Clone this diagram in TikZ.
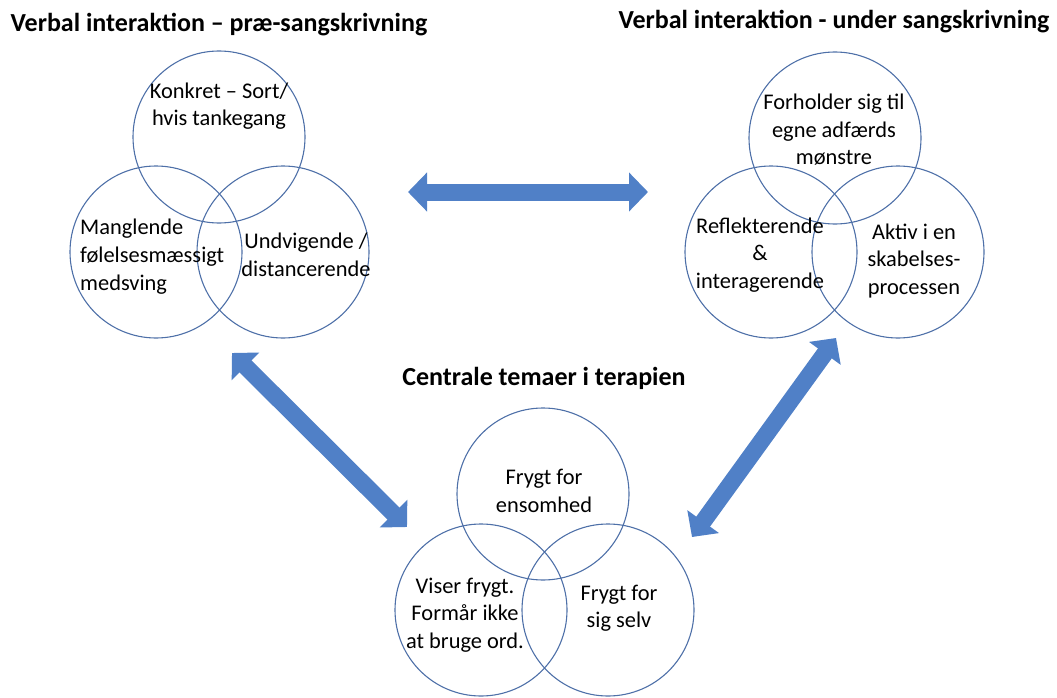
\documentclass[tikz,border=0pt]{standalone}
\usepackage{fontspec}
\setmainfont{Carlito}
\usetikzlibrary{arrows.meta}
\definecolor{ring}{RGB}{78,112,168}
\definecolor{arrowblue}{RGB}{80,128,199}
\tikzset{
  ring/.style={circle, draw=ring, line width=1.1pt, minimum size=172pt, inner sep=0pt},
  lbl/.style={align=center, inner sep=0pt, font=\fontsize{22.4}{27.5}\selectfont},
  lbll/.style={align=left, inner sep=0pt, font=\fontsize{22.4}{28}\selectfont},
  ttl/.style={inner sep=0pt, font=\fontsize{26}{30}\selectfont\bfseries},
  fat/.style={draw=arrowblue, fill=arrowblue, line width=17pt,
    {Triangle[length=19pt 0, width=38pt 0]}-{Triangle[length=19pt 0, width=38pt 0]}}
}
\begin{document}
\begin{tikzpicture}[x=1pt,y=-1pt]
\useasboundingbox (0,0) rectangle (1057,698);
% titles
\node[ttl] (t1) at (219,25) {Verbal interaktion -- præ-sangskrivning};
\node[ttl] (t2) at (834,22) {Verbal interaktion - under sangskrivning};
\node[ttl] (t3) at (544,378) {Centrale temaer i terapien};
% left group
\node[ring] (l1) at (219,137) {};
\node[ring] (l2) at (156,252) {};
\node[ring] (l3) at (283,252) {};
\node[lbl] (l1t) at (219,106) {Konkret -- Sort/\\hvis tankegang};
\node[lbll,anchor=west] (l2t) at (80,257) {Manglende\\følelsesmæssigt\\medsving};
\node[lbl] (l3t) at (306,255) {Undvigende /\\distancerende};
% right group
\node[ring] (r1) at (835,138) {};
\node[ring] (r2) at (771,252) {};
\node[ring] (r3) at (898,252) {};
\node[lbl] (r1t) at (834,130) {Forholder sig til\\egne adfærds\\mønstre};
\node[lbl] (r2t) at (760,255) {Reflekterende\\\&\\interagerende};
\node[lbl] (r3t) at (914,261) {Aktiv i en\\skabelses-\\processen};
% bottom group
\node[ring] (b1) at (543,494) {};
\node[ring] (b2) at (481,610) {};
\node[ring] (b3) at (608,610) {};
\node[lbl] (b1t) at (544,491) {Frygt for\\ensomhed};
\node[lbl] (b2t) at (465,615) {Viser frygt.\\Formår ikke\\at bruge ord.};
\node[lbl] (b3t) at (619,608) {Frygt for\\sig selv};
% arrow end points
\coordinate (h1) at (408,192);
\coordinate (h2) at (648,192);
\coordinate (d1) at (232,353);
\coordinate (d2) at (407,527);
\coordinate (e1) at (836,338);
\coordinate (e2) at (692,537);
\draw[fat] (h1) -- (h2);
\draw[fat] (d1) -- (d2);
\draw[fat] (e1) -- (e2);
\end{tikzpicture}
\end{document}
